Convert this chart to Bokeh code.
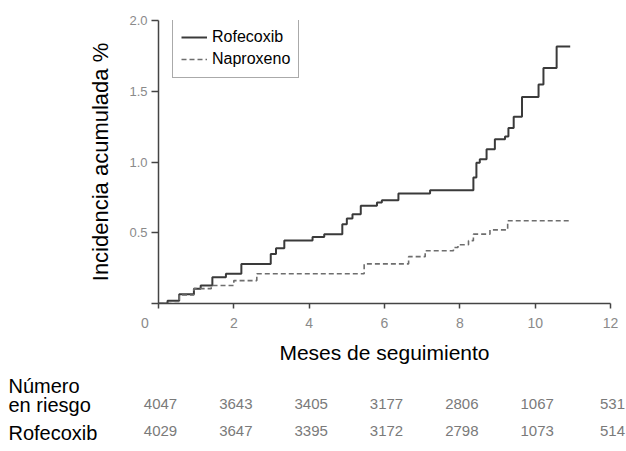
from bokeh.plotting import figure
from bokeh.models import Range1d, FixedTicker, ColumnDataSource
from bokeh.embed import file_html
from bokeh.resources import INLINE
from bokeh.core.properties import value

# ---- data ----
rofe_months = [0, 0.24, 0.55, 0.94, 1.12, 1.43, 1.79, 2.2, 2.98, 3.12, 3.34, 4.09, 4.4,
               4.88, 5.0, 5.15, 5.37, 5.8, 5.93, 6.37, 7.21, 8.36, 8.44, 8.53, 8.71,
               8.93, 9.2, 9.29, 9.43, 9.65, 10.09, 10.22, 10.57, 10.93]
rofe_pct = [0, 0.02, 0.065, 0.105, 0.127, 0.186, 0.21, 0.28, 0.35, 0.39, 0.445, 0.47, 0.49,
            0.56, 0.6, 0.63, 0.69, 0.713, 0.73, 0.777, 0.80, 0.89, 0.995, 1.02, 1.09,
            1.16, 1.18, 1.24, 1.32, 1.46, 1.547, 1.664, 1.817, 1.817]

napro_months = [0, 0.55, 0.94, 1.4, 2.0, 2.61, 5.46, 6.64, 7.08, 7.83, 7.95, 8.23, 8.36,
                8.8, 9.27, 10.93]
napro_pct = [0, 0.06, 0.105, 0.127, 0.162, 0.21, 0.28, 0.331, 0.373, 0.396, 0.415, 0.444,
             0.49, 0.52, 0.585, 0.585]

x_ticks = [0, 2, 4, 6, 8, 10, 12]
x_tick_labels = ["0", "2", "4", "6", "8", "10", "12"]
y_ticks = [0, 0.5, 1.0, 1.5, 2.0]
y_tick_labels = ["", "0.5", "1.0", "1.5", "2.0"]

risk_months = [0, 2, 4, 6, 8, 10, 12]
risk_row1 = ["4047", "3643", "3405", "3177", "2806", "1067", "531"]
risk_row2 = ["4029", "3647", "3395", "3172", "2798", "1073", "514"]
row_labels = ["Número", "en riesgo", "Rofecoxib"]

series_names = ["Rofecoxib", "Naproxeno"]

FONT = "Liberation Sans"
TICK_FONT = "'Liberation Sans Narrow', 'Liberation Sans', sans-serif"

# ---- layout in pixels ----
W = 626
H1, H2 = 370, 75
LEFT, RIGHT, TOP = 158, 16, 20
BOTTOM = H1 - 303
frame_w = W - LEFT - RIGHT
XMAX, YMAX = 12, 2
px_per_x = frame_w / XMAX

# ---- main chart ----
p = figure(width=W, height=H1, x_range=Range1d(0, XMAX), y_range=Range1d(0, YMAX),
           output_backend="svg", toolbar_location=None,
           min_border_left=LEFT, min_border_right=RIGHT, min_border_top=TOP,
           min_border_bottom=BOTTOM)
p.outline_line_color = None
p.grid.visible = False
p.background_fill_color = "white"

p.step(rofe_months, rofe_pct, mode="after", line_color="#3a3a3a", line_width=2,
       legend_label=series_names[0])
p.step(napro_months, napro_pct, mode="after", line_color="#6e6e6e", line_width=1.6,
       line_dash="5 3", legend_label=series_names[1])

for ax in (p.xaxis[0], p.yaxis[0]):
    ax.axis_line_color = "#444444"
    ax.axis_line_width = 1.5
    ax.major_tick_line_color = "#444444"
    ax.major_tick_line_width = 1.5
    ax.major_tick_in = 0
    ax.major_tick_out = 5
    ax.minor_tick_line_color = None
    ax.major_label_text_color = "#8a8a8a"
    ax.major_label_text_font = TICK_FONT
    ax.axis_label_text_font = FONT
    ax.axis_label_text_font_style = "normal"
    ax.axis_label_text_color = "black"

p.xaxis.ticker = FixedTicker(ticks=x_ticks)
xo = {t: l for t, l in zip(x_ticks, x_tick_labels)}
xo[0] = "0" + "\u00a0" * 7
p.xaxis.major_label_overrides = xo
p.xaxis.major_label_text_font_size = "14px"
p.xaxis.major_label_standoff = 6
p.xaxis.axis_label = "Meses de seguimiento"
p.xaxis.axis_label_text_font_size = "21px"
p.xaxis.axis_label_standoff = 7

p.yaxis.ticker = FixedTicker(ticks=y_ticks)
p.yaxis.major_label_overrides = {t: l for t, l in zip(y_ticks, y_tick_labels)}
p.yaxis.major_label_text_font_size = "13px"
p.yaxis.major_label_standoff = 4
p.yaxis.major_tick_out = 7
p.yaxis.axis_label = "Incidencia acumulada %"
p.yaxis.axis_label_text_font_size = "22px"
p.yaxis.axis_label_standoff = 13

lg = p.legend[0]
lg.location = (14, 225)
lg.label_text_font = FONT
lg.label_text_font_size = "16px"
lg.label_text_color = "black"
lg.label_height = 20
lg.glyph_height = 20
lg.glyph_width = 26
lg.label_standoff = 5
lg.padding = 8
lg.spacing = 2
lg.margin = 0
lg.border_line_color = "#555555"
lg.border_line_width = 1.5
lg.background_fill_alpha = 1

# ---- number at risk table: its own figure, same x scale as the chart ----
x0 = -LEFT / px_per_x
x1 = (W - LEFT) / px_per_x
t = figure(width=W, height=H2, x_range=Range1d(x0, x1), y_range=Range1d(H2, 0),
           output_backend="svg", toolbar_location=None, min_border=0,
           min_border_left=0, min_border_right=0, min_border_top=0, min_border_bottom=0,
           x_axis_location=None, y_axis_location=None)
t.outline_line_color = None
t.grid.visible = False

row_top = H1
lab_src = ColumnDataSource(dict(x=[x0 + 8 / px_per_x] * 3,
                                y=[385 - row_top, 404 - row_top, 432 - row_top],
                                text=row_labels))
t.text(x="x", y="y", text="text", source=lab_src, text_font=value(FONT),
       text_font_size="20px", text_color="black", text_align="left",
       text_baseline="alphabetic")

r1 = ColumnDataSource(dict(x=risk_months, y=[403 - row_top] * 7, text=risk_row1))
r2 = ColumnDataSource(dict(x=risk_months, y=[430 - row_top] * 7, text=risk_row2))
for src in (r1, r2):
    t.text(x="x", y="y", text="text", source=src, text_font=value(TICK_FONT),
           text_font_size="15px", text_color="#7a7a7a", text_align="center",
           text_baseline="alphabetic", x_offset=2)

open("out.html", "w").write(file_html([p, t], INLINE))
